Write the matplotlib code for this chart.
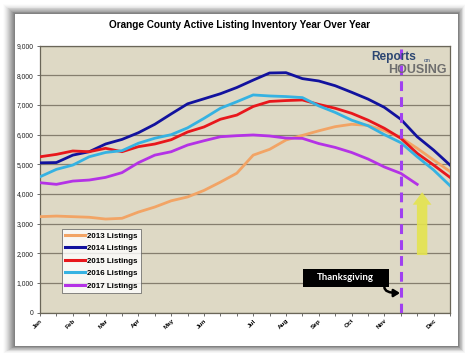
import matplotlib
matplotlib.use("Agg")
import matplotlib.pyplot as plt
from matplotlib.patches import Rectangle
from matplotlib.ticker import FuncFormatter, MultipleLocator

# ---------------- data ----------------
tick_labels = ["Jan", "", "Feb", "", "Mar", "", "Apr", "", "May", "", "Jun", "", "",
               "Jul", "", "Aug", "", "Sep", "", "Oct", "", "Nov", "", "", "Dec", ""]

listings_2013 = [3235, 3255, 3235, 3215, 3155, 3180, 3390, 3560, 3770, 3900, 4120, 4400, 4700,
                 5310, 5505, 5820, 5975, 6130, 6270, 6350, 6315, 6135, 5900, 5540, 5145, 4760]
listings_2014 = [5050, 5060, 5310, 5425, 5685, 5840, 6065, 6350, 6700, 7040, 7210, 7380, 7590,
                 7840, 8080, 8090, 7890, 7810, 7650, 7430, 7200, 6920, 6520, 5930, 5480, 4975]
listings_2015 = [5255, 5335, 5450, 5425, 5540, 5425, 5595, 5685, 5830, 6090, 6260, 6520, 6660,
                 6950, 7120, 7150, 7170, 7020, 6890, 6720, 6490, 6215, 5880, 5370, 4975, 4560]
listings_2016 = [4580, 4830, 4975, 5255, 5400, 5460, 5710, 5880, 6000, 6230, 6550, 6890, 7110,
                 7340, 7305, 7285, 7250, 6970, 6750, 6490, 6300, 6000, 5730, 5255, 4810, 4280]
listings_2017 = [4380, 4325, 4435, 4470, 4560, 4720, 5055, 5310, 5425, 5650, 5795, 5930, 5965,
                 5990, 5955, 5885, 5875, 5700, 5570, 5400, 5180, 4910, 4695, 4325]

series_names = ["2013 Listings", "2014 Listings", "2015 Listings", "2016 Listings", "2017 Listings"]
series_values = [listings_2013, listings_2014, listings_2015, listings_2016, listings_2017]
series_colors = ["#F2A465", "#12129E", "#E8171C", "#35B2E2", "#B432E6"]

thanksgiving_index = 22

# ---------------- figure ----------------
W, H = 473, 362
fig = plt.figure(figsize=(W / 100, H / 100), dpi=100)
fig.patch.set_facecolor("white")

def px_rect(x0, y0, x1, y1, **kw):
    return Rectangle((x0 / W, 1 - y1 / H), (x1 - x0) / W, (y1 - y0) / H,
                     transform=fig.transFigure, **kw)

# card shadow + white card
for k in range(12, 0, -1):
    a = 0.015 + 0.012 * (12 - k)
    fig.patches.append(px_rect(15 - k, 14 - k * 0.8, 458 + k * 0.6, 346 + k * 0.6,
                               facecolor="#404040", alpha=a, edgecolor="none", zorder=0))
fig.patches.append(px_rect(15, 14, 458, 346, facecolor="white", edgecolor="none", zorder=1))

ax = fig.add_axes([40 / W, 1 - 312.6 / H, 410 / W, (312.6 - 45.7) / H])
ax.set_zorder(2)
ax.set_facecolor("#DED9C5")

x_all = list(range(len(tick_labels)))
for name, vals, col in zip(series_names, series_values, series_colors):
    ax.plot(x_all[:len(vals)], vals, color=col, lw=2.0, label=name, zorder=3,
            solid_joinstyle="round")

ax.set_xlim(0, len(tick_labels) - 1)
ax.set_ylim(0, 9000)
ax.yaxis.set_major_locator(MultipleLocator(1000))
ax.yaxis.set_major_formatter(FuncFormatter(lambda v, p: f"{int(v):,}"))
ax.grid(axis="y", color="#857E6E", lw=0.9, zorder=1)
ax.set_axisbelow(True)

ax.set_xticks(x_all)
ax.set_xticklabels(tick_labels, rotation=45, ha="right", rotation_mode="anchor",
                   fontsize=4.6, family="Liberation Sans", fontweight="bold")
for lab in ax.get_yticklabels():
    lab.set_fontsize(4.9)
    lab.set_family("Liberation Sans")
    lab.set_color("#222222")
ax.tick_params(axis="x", length=2.5, width=0.6, color="#555555", pad=1.5)
ax.tick_params(axis="y", length=2.5, width=0.6, color="#555555", pad=2)
for s in ax.spines.values():
    s.set_color("#6A6658")
    s.set_linewidth(0.9)

# Thanksgiving dashed line
ax.axvline(thanksgiving_index, color="#A040F0", lw=2.2, ls=(0, (3.2, 2.0)), zorder=4)

# Thanksgiving label box
ax.add_patch(Rectangle((16.05, 863), 5.2, 610, facecolor="black", edgecolor="none", zorder=5))
ax.text(18.6, 1175, "Thanksgiving", color="white", fontsize=6.9, fontweight="bold",
        family="Lato", ha="center", va="center", zorder=6)
ax.annotate("", xy=(21.95, 660), xytext=(21.0, 860),
            arrowprops=dict(arrowstyle="-|>,head_length=0.35,head_width=0.22", color="black",
                            lw=1.8, connectionstyle="angle3,angleA=90,angleB=0",
                            shrinkA=0, shrinkB=0), zorder=6)

# Yellow arrow
ax.annotate("", xy=(23.3, 4060), xytext=(23.3, 1940),
            arrowprops=dict(arrowstyle="simple,head_length=0.9,head_width=1.35,tail_width=0.75",
                            color="#E4E44E", alpha=0.9, lw=0, shrinkA=0, shrinkB=0), zorder=5)

# Legend
leg = ax.legend(loc="lower left", bbox_to_anchor=(0.053, 0.073), frameon=True, fancybox=False,
                prop=dict(family="Liberation Sans", weight="bold", size=5.7),
                handlelength=2.5, handletextpad=0.2, labelspacing=0.62, borderpad=0.45,
                borderaxespad=0)
leg.get_frame().set_edgecolor("#555555")
leg.get_frame().set_linewidth(0.6)
leg.get_frame().set_facecolor("white")
for line in leg.get_lines():
    line.set_linewidth(2.2)

# Logo
ax.text(0.808, 0.957, "Reports", transform=ax.transAxes, color="#2C4672", fontsize=8.6,
        fontweight="bold", family="Liberation Sans", ha="left", va="center", zorder=6)
ax.text(0.935, 0.945, "on", transform=ax.transAxes, color="#2C4672", fontsize=4.5,
        family="Liberation Sans", ha="left", va="center", zorder=6)
ax.text(0.992, 0.91, "HOUSING", transform=ax.transAxes, color="#6E6E6E", fontsize=9.0,
        fontweight="bold", family="Liberation Sans", ha="right", va="center", zorder=6)

fig.text(240 / W, 1 - 25 / H, "Orange County Active Listing Inventory Year Over Year",
         ha="center", va="center", fontsize=7.2, fontweight="bold", family="Liberation Sans")

fig.savefig("out.png", dpi=100)
